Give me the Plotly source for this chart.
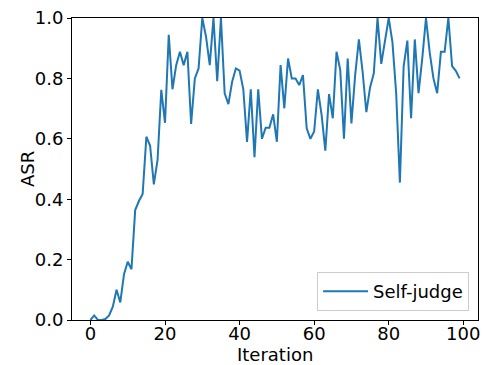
import plotly.graph_objects as go

iterations = list(range(100))
asr_self_judge = [
    0.0, 0.015, 0.0, 0.0, 0.003, 0.015, 0.044, 0.10, 0.058, 0.152,
    0.193, 0.168, 0.364, 0.394, 0.417, 0.607, 0.577, 0.449, 0.53, 0.762,
    0.653, 0.944, 0.764, 0.844, 0.888, 0.844, 0.888, 0.649, 0.80, 0.833,
    1.0, 0.938, 0.844, 1.0, 0.791, 1.0, 0.751, 0.715, 0.789, 0.833,
    0.826, 0.764, 0.59, 0.764, 0.539, 0.764, 0.60, 0.637, 0.637, 0.681,
    0.59, 0.844, 0.701, 0.866, 0.80, 0.80, 0.778, 0.811, 0.635, 0.60,
    0.624, 0.764, 0.679, 0.561, 0.748, 0.668, 0.888, 0.828, 0.60, 0.866,
    0.651, 0.811, 0.929, 0.822, 0.688, 0.77, 0.817, 1.0, 0.848, 0.925,
    1.0, 0.92, 0.751, 0.455, 0.839, 0.925, 0.668, 0.929, 0.751, 0.866,
    1.0, 0.885, 0.80, 0.751, 0.888, 0.888, 1.0, 0.841, 0.825, 0.80,
]
series_name = "Self-judge"
x_title = "Iteration"
y_title = "ASR"

fig = go.Figure()
fig.add_trace(go.Scatter(
    x=iterations, y=asr_self_judge, mode="lines", name=series_name,
    line=dict(color="#1f77b4", width=2),
))

font = dict(family="DejaVu Sans", size=18, color="black")
axis_common = dict(
    showgrid=False, zeroline=False, showline=True, linecolor="black",
    linewidth=1, mirror=True, ticks="outside", ticklen=4, tickwidth=1,
    tickcolor="black", tickfont=font, automargin=False,
)
fig.update_layout(
    template="none",
    width=484, height=365,
    margin=dict(l=72, r=6, t=18, b=45),
    paper_bgcolor="white", plot_bgcolor="white",
    font=font,
    showlegend=True,
    legend=dict(
        x=0.978, y=0.03, xanchor="right", yanchor="bottom",
        bordercolor="#cccccc", borderwidth=1, bgcolor="white",
        font=font, itemwidth=45,
    ),
    xaxis=dict(
        range=[-4.95, 103.95], tickvals=[0, 20, 40, 60, 80, 100],
        ticklabelstandoff=-7,
        **axis_common,
    ),
    yaxis=dict(
        range=[0, 1], tickvals=[0, 0.2, 0.4, 0.6, 0.8, 1.0], tickformat=".1f",
        **axis_common,
    ),
    annotations=[
        dict(text=x_title, xref="paper", yref="paper", x=0.5, y=0,
             xanchor="center", yanchor="middle", yshift=-34,
             showarrow=False, font=font),
        dict(text=y_title, xref="paper", yref="paper", x=0, y=0.5,
             xanchor="center", yanchor="middle", xshift=-45, textangle=-90,
             showarrow=False, font=font),
    ],
)

fig.write_html("out.html")
